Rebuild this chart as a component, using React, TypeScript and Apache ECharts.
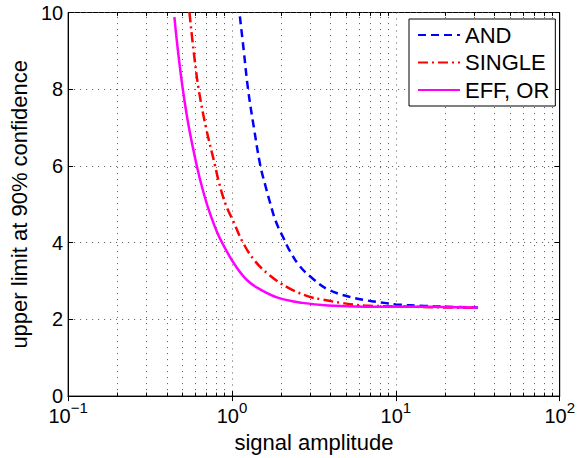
import { useEffect, useRef } from 'react';
import * as echarts from 'echarts';

// AND (blue dashed)
const andX = [1.117, 1.18, 1.253, 1.36, 1.49, 1.598, 1.713, 1.852, 2.062, 2.263, 2.601, 3.056, 3.85, 5.2, 6.73, 8.5, 10, 15, 20, 31.6];
const andY = [9.9, 9, 8, 7, 6, 5.49, 5.02, 4.55, 4.12, 3.77, 3.38, 3.09, 2.78, 2.59, 2.49, 2.43, 2.39, 2.35, 2.33, 2.31];
// SINGLE (red dash-dot)
const singleX = [0.55, 0.583, 0.626, 0.694, 0.789, 0.835, 0.916, 1.028, 1.154, 1.358, 1.673, 2.21, 2.92, 3.52, 4.64, 6.43, 10, 20, 31.6];
const singleY = [10, 9, 8, 7, 6, 5.55, 4.99, 4.52, 4.04, 3.56, 3.17, 2.82, 2.6, 2.52, 2.43, 2.36, 2.34, 2.31, 2.3];
// EFF, OR (magenta solid)
const effX = [0.445, 0.468, 0.501, 0.546, 0.61, 0.661, 0.726, 0.815, 0.916, 1.053, 1.237, 1.46, 1.92, 2.7, 3.85, 6.4, 10, 20, 31.6];
const effY = [9.88, 9, 8, 7, 6, 5.4, 4.82, 4.25, 3.82, 3.39, 3.02, 2.8, 2.56, 2.43, 2.36, 2.33, 2.33, 2.32, 2.31];

const seriesNames = ['AND', 'SINGLE', 'EFF, OR'];
const xMin = 0.1;
const xMax = 100;
const yMin = 0;
const yMax = 10;
const yStep = 2;
const minorMultipliers = [2, 3, 4, 5, 6, 7, 8, 9];
const decades = [0.1, 1, 10];
const xTitle = 'signal amplitude';
const yTitle = 'upper limit at 90% confidence';

const FONT = '"Liberation Sans", Arial, Helvetica, sans-serif';

const pairs = (xs: number[], ys: number[]) => xs.map((x, i) => [x, ys[i]]);

export default function App() {
  const ref = useRef<HTMLDivElement>(null);
  useEffect(() => {
    document.body.style.margin = '0';
    if (!ref.current) return;
    const chart = echarts.init(ref.current, null, { renderer: 'svg' });

    const minorVals: number[] = [];
    decades.forEach((d) => minorMultipliers.forEach((m) => minorVals.push(+(d * m).toPrecision(3))));

    const gridLines = minorVals.map((v) => ({ xAxis: v }));
    const tickLen = 0.09;
    const minorTicks: any[] = [];
    minorVals.forEach((v) => {
      minorTicks.push([{ coord: [v, yMin] }, { coord: [v, yMin + tickLen] }]);
      minorTicks.push([{ coord: [v, yMax] }, { coord: [v, yMax - tickLen] }]);
    });

    const expLabel = (v: number) => {
      const e = Math.round(Math.log10(v));
      const s = e < 0 ? '\u2212' + Math.abs(e) : String(e);
      return '{b|10}{s|' + s + '}';
    };

    const splitStyle = { show: true, lineStyle: { color: '#555', width: 1, type: [1, 5] as any } };

    const option: any = {
      animation: false,
      backgroundColor: '#fff',
      textStyle: { fontFamily: FONT },
      grid: {
        left: 67.5,
        right: 13.5,
        top: 12.5,
        bottom: 60.5,
        show: true,
        borderColor: '#000',
        borderWidth: 1,
        backgroundColor: 'transparent',
      },
      legend: {
        data: seriesNames,
        orient: 'vertical',
        left: 409,
        top: 19,
        padding: [5, 6, 5, 8],
        itemGap: 5.5,
        itemWidth: 42,
        itemHeight: 14,
        borderColor: '#000',
        borderWidth: 1,
        backgroundColor: '#fff',
        itemStyle: { color: 'transparent', borderColor: 'transparent', borderWidth: 0, opacity: 0 },
        textStyle: { fontSize: 22, color: '#000', fontFamily: FONT },
        selectedMode: false,
      },
      xAxis: [
        {
          type: 'log',
          logBase: 10,
          min: xMin,
          max: xMax,
          position: 'bottom',
          name: xTitle,
          nameLocation: 'middle',
          nameGap: 32,
          nameTextStyle: { fontSize: 22, color: '#000', fontFamily: FONT },
          axisLine: { show: true, lineStyle: { color: '#000', width: 1 } },
          axisTick: { show: true, inside: true, length: 5, lineStyle: { color: '#000' } },
          axisLabel: {
            margin: 10,
            formatter: expLabel,
            color: '#000',
            rich: {
              b: { fontSize: 20, lineHeight: 20, color: '#000', fontFamily: FONT, verticalAlign: 'bottom' },
              s: { fontSize: 15, lineHeight: 15, color: '#000', fontFamily: FONT, padding: [0, 0, 11, 0], verticalAlign: 'bottom' },
            },
          },
          splitLine: splitStyle,
          minorTick: { show: false },
        },
        {
          type: 'log',
          logBase: 10,
          min: xMin,
          max: xMax,
          position: 'top',
          axisLine: { show: true, lineStyle: { color: '#000', width: 1 } },
          axisTick: { show: true, inside: true, length: 5, lineStyle: { color: '#000' } },
          axisLabel: { show: false },
          splitLine: { show: false },
        },
      ],
      yAxis: [
        {
          type: 'value',
          min: yMin,
          max: yMax,
          interval: yStep,
          position: 'left',
          name: yTitle,
          nameLocation: 'middle',
          nameRotate: 90,
          nameGap: 28,
          nameTextStyle: { fontSize: 22, color: '#000', fontFamily: FONT },
          axisLine: { show: true, lineStyle: { color: '#000', width: 1 } },
          axisTick: { show: true, inside: true, length: 5, lineStyle: { color: '#000' } },
          axisLabel: { margin: 5, fontSize: 20, color: '#000', fontFamily: FONT },
          splitLine: splitStyle,
        },
        {
          type: 'value',
          min: yMin,
          max: yMax,
          interval: yStep,
          position: 'right',
          axisLine: { show: true, lineStyle: { color: '#000', width: 1 } },
          axisTick: { show: true, inside: true, length: 5, lineStyle: { color: '#000' } },
          axisLabel: { show: false },
          splitLine: { show: false },
        },
      ],
      series: [
        {
          name: '__grid',
          type: 'line',
          data: [[1, -5]],
          symbol: 'none',
          silent: true,
          lineStyle: { opacity: 0 },
          z: 1,
          markLine: {
            silent: true,
            symbol: ['none', 'none'],
            label: { show: false },
            animation: false,
            z: 1,
            lineStyle: { color: '#555', width: 1, type: [1, 5] },
            emphasis: { disabled: true },
            data: gridLines,
          },
        },
        {
          name: '__ticks',
          type: 'line',
          data: [[1, -5]],
          symbol: 'none',
          silent: true,
          lineStyle: { opacity: 0 },
          z: 1,
          markLine: {
            silent: true,
            symbol: ['none', 'none'],
            label: { show: false },
            animation: false,
            z: 6,
            lineStyle: { color: '#000', width: 1, type: 'solid' },
            emphasis: { disabled: true },
            data: minorTicks,
          },
        },
        {
          name: seriesNames[0],
          type: 'line',
          data: pairs(andX, andY),
          symbol: 'none',
          smooth: 0.4,
          z: 3,
          lineStyle: { color: '#0000ff', width: 2.5, type: [8, 5] },
          itemStyle: { color: '#0000ff' },
        },
        {
          name: seriesNames[1],
          type: 'line',
          data: pairs(singleX, singleY),
          symbol: 'none',
          smooth: 0.4,
          z: 3,
          lineStyle: { color: '#ff0000', width: 2.5, type: [10, 4, 2, 4] },
          itemStyle: { color: '#ff0000' },
        },
        {
          name: seriesNames[2],
          type: 'line',
          data: pairs(effX, effY),
          symbol: 'none',
          smooth: 0.4,
          z: 3,
          lineStyle: { color: '#ff00ff', width: 2.5, type: 'solid' },
          itemStyle: { color: '#ff00ff' },
        },
      ],
    };
    chart.setOption(option);
    return () => chart.dispose();
  }, []);
  return <div ref={ref} style={{ width: 578, height: 458 }} />;
}
